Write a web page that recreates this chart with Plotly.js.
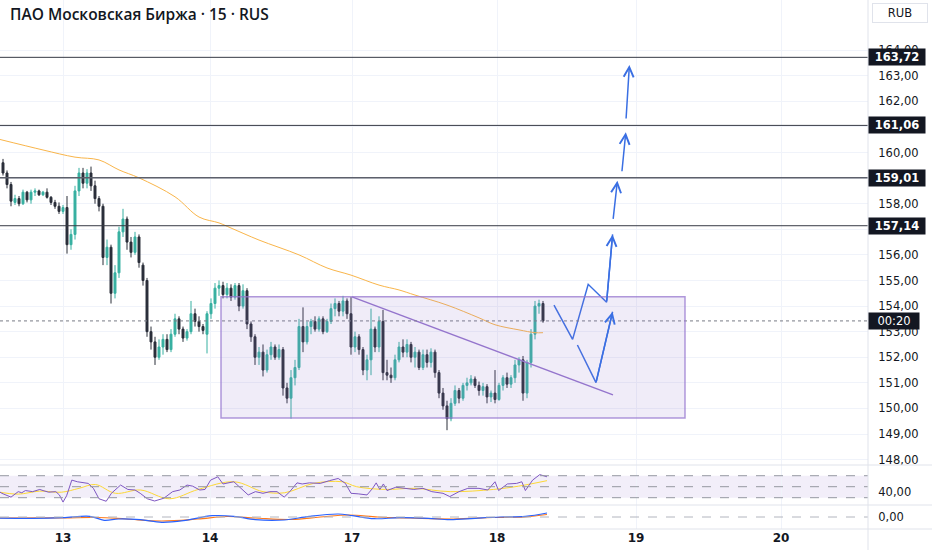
<!DOCTYPE html>
<html>
<head>
<meta charset="utf-8">
<script src="https://cdn.plot.ly/plotly-3.0.1.min.js"></script>
<style>html,body{margin:0;padding:0;background:#fff;}#chart{width:932px;height:550px;}</style>
</head>
<body>
<div id="chart"></div>
<script>
// ---- data (15-min bars, index 0 = first bar of day 13) ----
const firstBar = -15;
const openP = [159.6,159.2,158.75,158.05,158.2,158.0,158.45,158.15,158.45,158.5,
158.35,158.45,158.25,158.05,157.9,
157.7,157.85,156.4,156.8,158.5,159.2,158.8,159.2,158.7,158.2,
157.9,155.9,156.3,154.5,155.3,156.9,157.4,156.5,156.1,156.7,
155.6,155.0,153.0,152.6,152.0,152.4,152.7,152.3,152.9,153.5,
153.1,152.75,153.0,153.7,153.4,153.2,152.9,153.7,154.1,154.7,
154.8,154.45,154.7,154.35,154.8,154.0,154.6,153.3,152.8,152.0,
152.2,151.5,152.1,152.4,152.0,152.3,150.8,150.4,151.2,151.6,
153.2,152.6,153.2,153.4,153.1,153.5,153.0,153.4,153.9,154.1,
153.8,154.2,153.7,152.4,152.8,152.3,151.5,151.9,153.1,152.4,
153.4,151.4,151.3,151.2,151.9,152.4,152.2,152.5,152.0,152.2,
151.6,152.1,151.8,152.2,151.4,150.6,150.1,149.6,150.2,150.7,
150.4,150.9,151.0,151.15,150.9,150.7,150.85,150.45,150.6,150.35,
150.9,151.2,150.95,151.2,151.7,151.9,150.6,151.8,152.9,154.0,
154.1];
const highP = [159.75,159.3,158.85,158.35,158.3,158.55,158.5,158.55,158.6,158.55,
158.5,158.6,158.3,158.15,158.05,
157.95,158.3,157.0,158.7,159.4,159.4,159.35,159.45,158.9,158.3,
158.0,156.6,156.4,155.6,157.1,157.8,157.5,156.7,156.9,156.8,
155.7,155.1,153.2,152.8,152.7,152.9,152.9,153.1,153.7,153.6,
153.2,153.1,154.2,153.9,153.6,153.3,153.8,154.3,154.9,155.0,
154.95,154.9,154.85,154.9,154.9,154.85,154.7,153.4,152.9,152.4,
152.5,152.3,152.6,152.5,152.5,152.4,151.0,151.5,151.9,153.5,
153.95,153.4,153.5,153.6,153.6,153.6,153.5,154.1,154.3,154.2,
154.4,154.3,154.35,153.0,152.9,152.4,152.1,153.9,153.2,153.6,
153.85,151.9,151.6,152.1,152.6,152.7,152.7,152.6,152.4,152.3,
152.3,152.3,152.35,152.3,151.5,150.8,150.3,150.4,150.9,150.8,
151.0,151.2,151.3,151.25,151.05,151.0,150.95,150.7,151.5,151.0,
151.3,151.4,151.3,151.9,152.0,152.05,151.9,153.1,154.2,154.25,
154.2];
const lowP = [159.1,158.6,157.9,157.95,157.9,157.95,158.05,158.0,158.3,158.3,
158.3,158.2,157.95,157.8,157.6,
157.6,156.05,156.2,156.6,158.3,158.6,158.6,158.5,158.0,157.7,
155.6,155.6,154.1,154.3,155.1,156.7,156.2,155.9,156.0,155.5,
154.8,152.8,152.3,151.7,151.9,152.1,152.2,152.2,152.8,152.9,
152.6,152.65,152.9,153.2,153.0,152.9,152.15,153.5,153.9,154.4,
154.3,154.3,154.2,154.25,153.8,153.9,153.1,152.6,151.7,151.7,
151.25,151.4,151.9,151.9,151.9,150.5,150.2,149.6,150.9,151.5,
152.2,152.5,152.9,153.0,153.0,152.9,152.95,153.3,153.6,153.6,
153.6,153.5,152.1,152.2,152.1,151.3,151.1,151.3,152.2,152.2,
151.1,151.1,151.0,151.1,151.8,152.0,152.0,151.8,151.6,151.5,
151.5,151.6,151.6,151.2,150.4,149.95,149.15,149.5,150.1,150.2,
150.3,150.7,150.9,150.8,150.5,150.5,150.2,150.25,150.2,150.3,
150.7,150.8,150.8,151.0,151.4,150.3,150.4,151.6,152.7,153.7,
153.35];
const closeP = [159.2,158.75,158.1,158.2,158.0,158.45,158.15,158.45,158.5,158.35,
158.45,158.25,158.05,157.9,157.7,
157.85,156.4,156.8,158.5,159.2,158.8,159.2,158.7,158.2,157.9,
155.9,156.3,154.5,155.3,156.9,157.4,156.5,156.1,156.7,155.7,
155.0,153.0,152.6,152.0,152.4,152.7,152.3,152.9,153.5,153.1,
152.75,153.0,153.7,153.4,153.2,153.05,153.7,154.1,154.7,154.8,
154.45,154.7,154.35,154.8,154.0,154.6,153.3,152.8,152.0,152.2,
151.5,152.1,152.4,152.0,152.3,150.8,150.4,151.2,151.6,153.2,
152.6,153.2,153.4,153.1,153.5,153.0,153.4,153.9,154.1,153.8,
154.2,153.7,152.4,152.8,152.3,151.5,151.9,153.1,152.4,153.4,
151.4,151.3,151.2,151.9,152.4,152.2,152.5,152.0,152.2,151.6,
152.1,151.8,152.2,151.4,150.6,150.1,149.6,150.2,150.7,150.4,
150.9,151.0,151.15,150.9,150.7,150.85,150.45,150.6,150.35,150.9,
151.2,150.95,151.2,151.7,151.9,150.6,151.8,152.9,154.0,154.1,
153.42];
const barX = closeP.map((_, i) => firstBar + i);

// moving average on price
const maX = [-16,-5,3,9,14,19,28,34,39,42,49,59,66,72,79,84,88,96,104,108,114,118,120];
const maVals = [160.52,160.10,159.82,159.71,159.32,159.01,158.27,157.48,157.25,157.05,156.58,156.0,155.49,155.21,154.82,154.63,154.43,154.04,153.54,153.27,153.07,152.96,152.96];

// RSI pane
const rsiX = [-16.6,-15.3,-13,-11.2,-10.3,-9.4,-7.6,-5.8,-5,-3.6,-1.8,-0.9,0,0.9,2.2,3.6,6.3,7.6,9,10.8,12.1,14.4,16.2,18,19.3,21.1,22.9,25.2,27.4,29.2,31,32.4,34.2,35.5,36.9,38.7,40,41.8,42.7,44.5,46.3,48.1,50,51.7,53.5,55.3,56.7,58.5,59.8,61.6,64.3,66.6,68.8,70.6,72,73.8,76,77.4,78.3,79.2,80.1,81,83.2,85.5,87.7,90,92.2,95,96.7,99,101.2,104,106.2,108,108.9,111.1,113.4,114.7,115.6,117.4,119.2,121];
const rsiVals = [44,38,31,41,39,43,41,45,43,40,41,35,22,33.5,62,59,56,47,28,23.5,38,53,45,44,38,28,24,29,41,44,53,51,44,45,62,68,55,57,59,47,35,41,38,41,41,31,41,57,55,57,56,61,65,56,38,37,35,47,57,45,55,43,49,47,45,47,41,38,32,41,47,47,44,59,43,55,56,59,43,62,72,68];
const rsiMaX = [-16.6,-11.2,-5.8,-0.4,4,8.1,13.1,19.4,26.6,33.8,42.8,50,55.4,62.6,69.8,73.4,80.6,87.8,96.8,107.6,113.9,121];
const rsiMaVals = [41,36.5,42,40,47,54,38,44,28,45,59,41,39,56,59,50,45,47,41,45,51,61];
const rsiLevels = [70, 50, 30];

// MACD pane
const macdX = [-16.6,-7.6,0,6.7,10.3,13.9,19.3,24.7,30.1,37.3,42.7,48.1,55.3,61.6,68.8,72.4,77.8,84.1,91.3,96.7,103,109.3,115.6,121];
const macdVals = [-0.1,-0.13,-0.07,0.07,-0.33,-0.2,-0.27,-0.53,-0.37,0.13,0.07,-0.27,-0.3,0.07,0.3,0.13,-0.17,-0.07,-0.13,-0.27,-0.13,0,0.07,0.4];
const sigX = [-16.6,0,8.5,15.8,24.7,33.7,41,48.1,57.1,64.3,71.5,78.7,86.8,97.6,107.5,115.6,121];
const sigVals = [-0.1,-0.08,-0.05,-0.2,-0.4,-0.2,0.05,-0.1,-0.25,0,0.2,0,-0.1,-0.2,-0.05,0.02,0.25];

// drawings
const levels = [163.72, 161.06, 159.01, 157.14];
const lastPrice = 153.42;
const countdown = '00:20';
const boxX = [39.5, 155.5];
const boxY = [149.63, 154.36];
const trendX = [72.25, 137.5];
const trendY = [154.36, 150.53];
const path1X = [122.75, 127.4, 131.3, 135.9, 137.4];
const path1Y = [154.04, 152.70, 154.85, 154.15, 156.80];
const path2X = [128.6, 133.25, 137.4];
const path2Y = [152.48, 151.01, 153.78];
const arrowsTail = [[135.9,154.15],[133.25,151.01],[137.5,157.35],[139.7,159.21],[140.75,161.27]];
const arrowsTip = [[137.4,156.80],[137.4,153.78],[138.6,158.90],[140.7,160.79],[141.6,163.42]];

const dayTicks = [0, 36.75, 72.25, 108.5, 143.25, 179.5];
const dayLabels = ['13','14','17','18','19','20'];
const priceTicks = [148,149,150,151,152,153,154,155,156,157,158,159,160,161,162,163,164];
const hiddenTicks = [157, 159, 161]; // covered by level labels in the reference

// ---- build ----
const FONT = 'Open Sans, Roboto, sans-serif';
const AXFONT = 'DejaVu Sans, Verdana, sans-serif';
const TXT = '#131722';
const blue = '#3a6fe3';
const fmt = v => v.toFixed(2).replace('.', ',');

const traces = [
  {type:'candlestick', x: barX, open: openP, high: highP, low: lowP, close: closeP,
   xaxis:'x', yaxis:'y', whiskerwidth:0,
   increasing:{line:{color:'#37b0a1', width:1}, fillcolor:'#37b0a1'},
   decreasing:{line:{color:'#2a2e39', width:1}, fillcolor:'#2a2e39'},
   hoverinfo:'skip', showlegend:false},
  {type:'scatter', mode:'lines', x: maX, y: maVals, line:{color:'#f9b54a', width:1, shape:'spline'}, hoverinfo:'skip', showlegend:false},
  {type:'scatter', mode:'lines', x: trendX, y: trendY, line:{color:'#9575cd', width:1.5}, hoverinfo:'skip', showlegend:false},
  {type:'scatter', mode:'lines', x: path1X, y: path1Y, line:{color:blue, width:1.5}, hoverinfo:'skip', showlegend:false},
  {type:'scatter', mode:'lines', x: path2X, y: path2Y, line:{color:blue, width:1.5}, hoverinfo:'skip', showlegend:false},
  {type:'scatter', mode:'lines', x: rsiMaX, y: rsiMaVals, yaxis:'y2', line:{color:'#fdd835', width:1, shape:'spline'}, hoverinfo:'skip', showlegend:false},
  {type:'scatter', mode:'lines', x: rsiX, y: rsiVals, yaxis:'y2', line:{color:'#7e57c2', width:1}, hoverinfo:'skip', showlegend:false},
  {type:'scatter', mode:'lines', x: sigX, y: sigVals, yaxis:'y3', line:{color:'#ff7a1a', width:1.2, shape:'spline'}, hoverinfo:'skip', showlegend:false},
  {type:'scatter', mode:'lines', x: macdX, y: macdVals, yaxis:'y3', line:{color:'#2962ff', width:1.2, shape:'spline'}, hoverinfo:'skip', showlegend:false}
];

const shapes = [];
shapes.push({type:'rect', xref:'x domain', yref:'y2', x0:0, x1:1, y0:rsiLevels[2], y1:rsiLevels[0], fillcolor:'rgba(126,87,194,0.10)', line:{width:0}, layer:'below'});
rsiLevels.forEach(v => shapes.push({type:'line', xref:'x domain', yref:'y2', x0:0, x1:1, y0:v, y1:v, line:{color:'#9598a1', width:1, dash:'dash'}}));
shapes.push({type:'line', xref:'x domain', yref:'y3', x0:0, x1:1, y0:0, y1:0, line:{color:'#b2b5be', width:1, dash:'dash'}});
levels.forEach((v, k) => shapes.push({type:'line', xref:'x domain', yref:'y', x0:0, x1:1, y0:v, y1:v, line:{color: k === 2 ? '#5d606b' : '#363a45', width: k === 2 ? 1.5 : 1}}));
shapes.push({type:'line', xref:'x domain', yref:'y', x0:0, x1:1, y0:lastPrice, y1:lastPrice, line:{color:'#787b86', width:1, dash:'dot'}});
shapes.push({type:'rect', xref:'x', yref:'y', x0:boxX[0], x1:boxX[1], y0:boxY[0], y1:boxY[1], fillcolor:'rgba(149,117,205,0.14)', line:{color:'rgba(149,117,205,0.75)', width:1.5}});
const PH = 529;
[465, 505, 529].forEach(py => shapes.push({type:'line', xref:'paper', yref:'paper', x0:0, x1:932/868, y0:(PH-py)/PH, y1:(PH-py)/PH, line:{color:'#e0e3eb', width:1}}));
shapes.push({type:'line', xref:'paper', yref:'paper', x0:1, x1:1, y0:-21/PH, y1:1, line:{color:'#e0e3eb', width:1}});

const annotations = [];
annotations.push({xref:'paper', yref:'paper', x:0, y:1, xanchor:'left', yanchor:'top', xshift:8, yshift:-1, showarrow:false,
  text:'ПАО Московская Биржа · 15 · RUS', font:{family:FONT, size:15.5, color:TXT, weight:600}});
annotations.push({xref:'paper', yref:'paper', x:1, y:1, xanchor:'left', yanchor:'top', xshift:4, yshift:-3, showarrow:false,
  text:'RUB', width:52, height:16, bordercolor:'#e0e3eb', borderwidth:1, borderpad:1, font:{family:AXFONT, size:11.5, color:TXT}});
levels.forEach(v => annotations.push({xref:'paper', yref:'y', x:1, y:v, xanchor:'left', xshift:0, showarrow:false,
  text:fmt(v), bgcolor:'#131722', width:54, borderpad:1, font:{family:AXFONT, size:11.5, color:'#ffffff', weight:700}}));
annotations.push({xref:'paper', yref:'y', x:1, y:lastPrice, xanchor:'left', xshift:0, showarrow:false,
  text:countdown, bgcolor:'#131722', width:48, borderpad:1, font:{family:AXFONT, size:11.5, color:'#ffffff'}});
arrowsTip.forEach((t, k) => annotations.push({xref:'x', yref:'y', axref:'x', ayref:'y', x:t[0], y:t[1], ax:arrowsTail[k][0], ay:arrowsTail[k][1],
  text:'', showarrow:true, arrowhead:5, arrowsize:1.3, arrowwidth:1.5, arrowcolor:blue}));

const yTickText = priceTicks.map(v => hiddenTicks.includes(v) ? '' : fmt(v));

const layout = {
  width:932, height:550,
  margin:{l:0, r:64, t:0, b:21, pad:0},
  paper_bgcolor:'#ffffff', plot_bgcolor:'#ffffff',
  separators:', ',
  showlegend:false,
  font:{family:AXFONT, size:11.5, color:TXT},
  xaxis:{range:[-15.75, 201.25], anchor:'y3', tickvals:dayTicks, ticktext:dayLabels, showgrid:true, gridcolor:'#f0f3fa',
    zeroline:false, showline:false, ticks:'', tickfont:{family:AXFONT, size:12, color:TXT, weight:600},
    rangeslider:{visible:false}, fixedrange:true},
  yaxis:{domain:[(PH-465)/PH, 1], range:[147.79, 165.96], side:'right', tickvals:priceTicks, ticktext:yTickText,
    showgrid:true, gridcolor:'#f0f3fa', zeroline:false, ticks:'outside', ticklen:7, tickcolor:'rgba(0,0,0,0)', tickfont:{family:AXFONT, size:11.5, color:TXT}},
  yaxis2:{domain:[(PH-505)/PH, (PH-465)/PH], range:[16.7, 89.5], side:'right', tickvals:[40], tickformat:'.2f',
    showgrid:false, zeroline:false, ticks:'outside', ticklen:7, tickcolor:'rgba(0,0,0,0)', tickfont:{family:AXFONT, size:11.5, color:TXT}},
  yaxis3:{domain:[0, (PH-505)/PH], range:[-1.2, 1.2], side:'right', tickvals:[0], tickformat:'.2f',
    showgrid:false, zeroline:false, ticks:'outside', ticklen:7, tickcolor:'rgba(0,0,0,0)', tickfont:{family:AXFONT, size:11.5, color:TXT}},
  shapes: shapes,
  annotations: annotations
};

Plotly.newPlot('chart', traces, layout, {staticPlot:true, displayModeBar:false});
</script>
</body>
</html>
